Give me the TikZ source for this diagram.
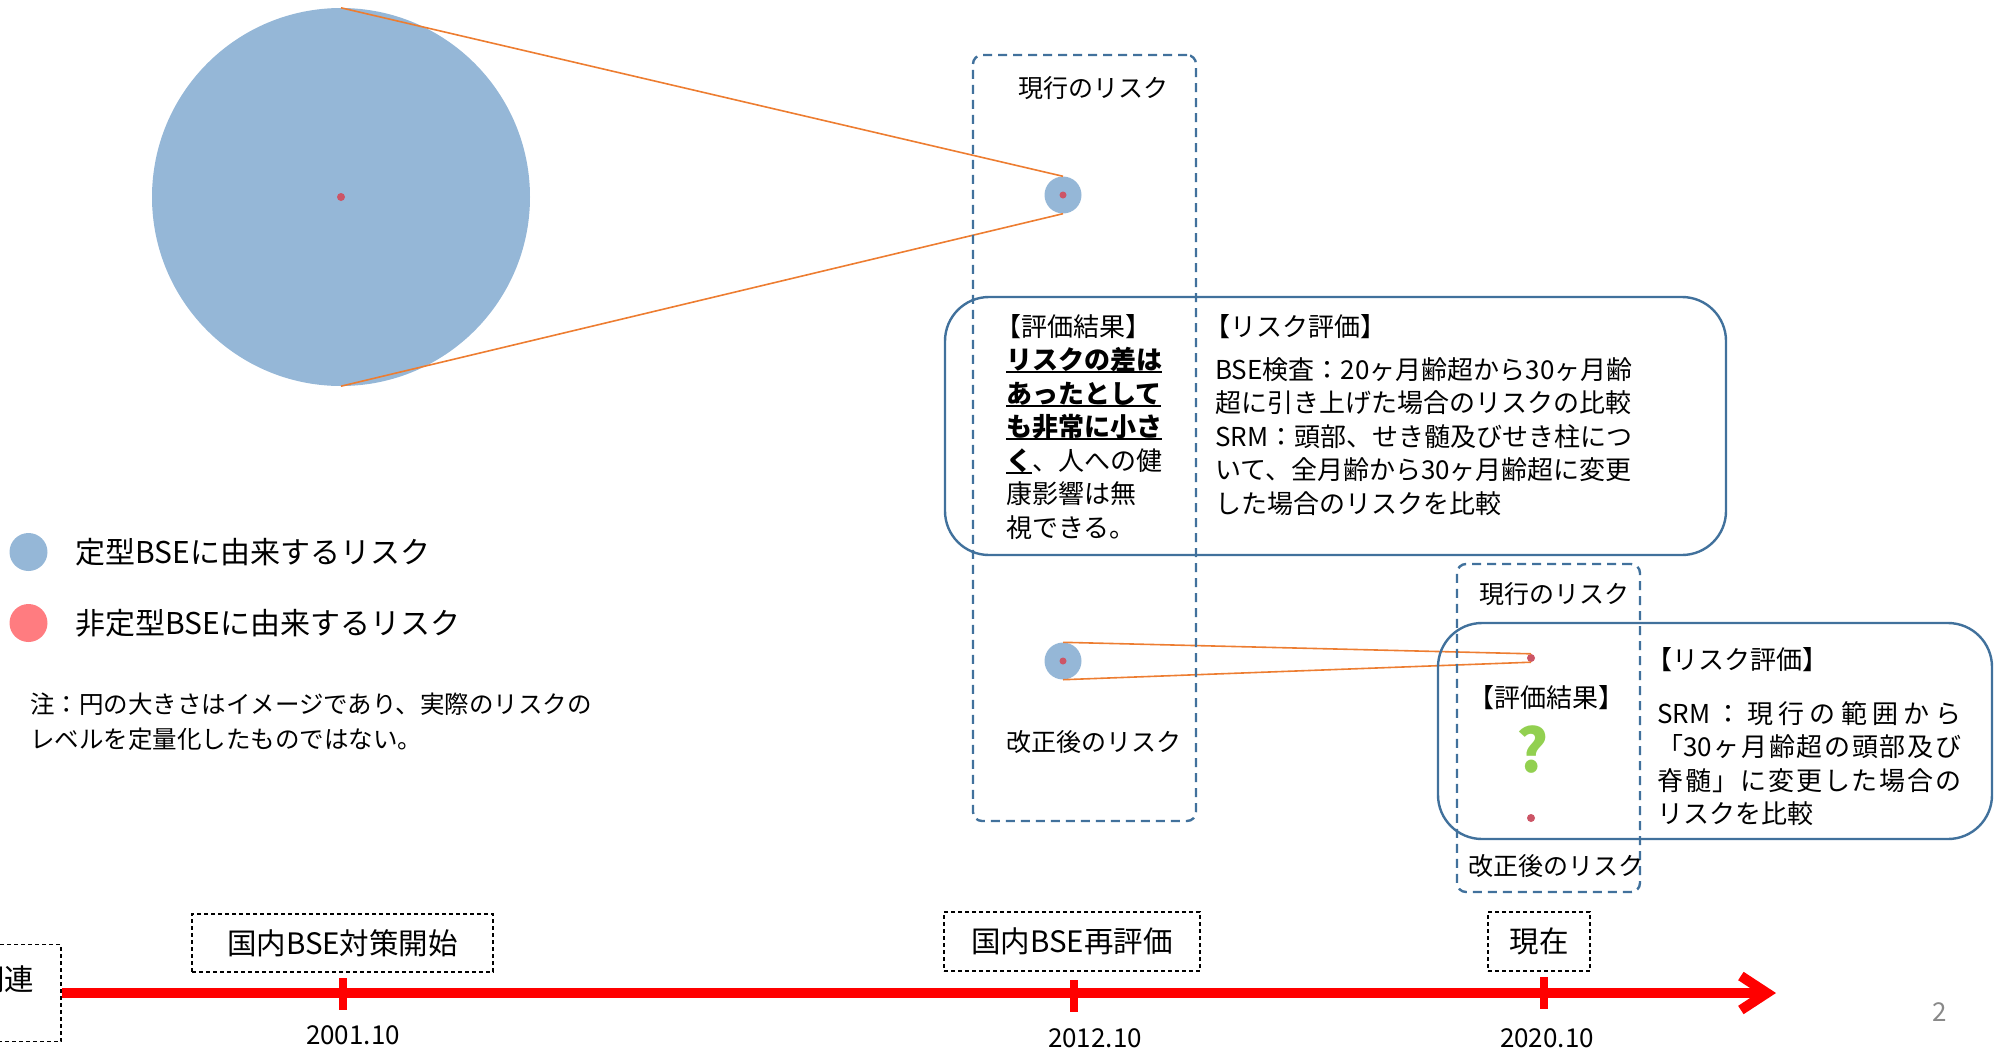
\documentclass[tikz,border=0pt]{standalone}
\usepackage{fontspec}
\setmainfont{Noto Sans CJK JP}
\usetikzlibrary{arrows.meta,positioning}
\definecolor{riskblue}{RGB}{149,183,215}
\definecolor{riskred}{RGB}{204,85,102}
\definecolor{legred}{RGB}{255,124,128}
\definecolor{lineorange}{RGB}{237,125,49}
\definecolor{frameblue}{RGB}{65,113,156}
\definecolor{qgreen}{RGB}{146,208,80}
\definecolor{pagegray}{RGB}{137,137,137}
\newcommand\jsize[2]{\fontsize{#1}{#2}\selectfont}
\newcommand\uln[1]{\setbox0\hbox{#1}\rlap{\rule[-3.5pt]{\wd0}{1.8pt}}\box0}
\makeatletter
\def\spr@ad#1{\ifx#1\@nil\else\hfil#1\expandafter\spr@ad\fi}
\def\spr@first#1{#1\spr@ad}
\newcommand\spreadline[2]{\makebox[#1][s]{\spr@first#2\@nil}}
\makeatother

\begin{document}
\begin{tikzpicture}[x=1pt,y=-1pt,
    rc/.style={circle,fill=riskblue,inner sep=0pt},
    rdot/.style={circle,fill=riskred,inner sep=0pt,minimum size=8pt},
    zl/.style={draw=lineorange,line width=1.6pt},
    stgbox/.style={draw=frameblue,line width=2.4pt,dash pattern=on 9pt off 6pt,
      rounded corners=9pt,inner sep=0pt},
    resbox/.style={draw=frameblue,line width=2.4pt,rounded corners=44pt,inner sep=0pt},
    evbox/.style={draw,line width=1.5pt,dash pattern=on 4pt off 3pt,inner sep=0pt,
      font=\jsize{29.5}{30}},
    txt/.style={inner sep=0pt,font=\jsize{26}{33.5}},
    lab/.style={inner sep=0pt,font=\jsize{25}{30}},
    legtxt/.style={inner sep=0pt,font=\jsize{30}{30}},
    datelab/.style={inner sep=0pt,font=\jsize{26}{30}},
    tl/.style={red,line width=10pt,-{Straight Barb[length=26pt,width=34pt]}},
    tickmark/.style={red,line width=8pt}]
  \useasboundingbox (0,0) rectangle (1995,1053);
  % risk circles
  \node[rc,minimum size=378pt] (big) at (341,197) {};
  \node[rdot] (bigdot) at (big) {};
  \node[rc,minimum size=37pt] (cur1) at (1063,195) {};
  \node[rdot,minimum size=7pt] (cur1dot) at (cur1) {};
  \node[rc,minimum size=37pt] (new1) at (1063,661) {};
  \node[rdot,minimum size=7pt] (new1dot) at (new1) {};
  \node[rdot] (cur2) at (1531,658) {};
  \node[rdot] (new2) at (1531,818) {};
  \draw[zl] (big.north) -- (cur1.north);
  \draw[zl] (big.south) -- (cur1.south);
  \draw[zl] (new1.north) -- (cur2.north);
  \draw[zl] (new1.south) -- (cur2.south);
  % stages
  \node[stgbox,minimum width=223pt,minimum height=766pt] (stg1) at (1084.5,438) {};
  \node[lab] (cur1lab) at (1093,88) {現行のリスク};
  \node[lab] (new1lab) at (1094,742) {改正後のリスク};
  \node[stgbox,minimum width=183pt,minimum height=328pt] (stg2) at (1548.5,728) {};
  \node[lab] (cur2lab) at (1554,594) {現行のリスク};
  \node[lab] (new2lab) at (1556,866) {改正後のリスク};
  % results
  \node[resbox,minimum width=781pt,minimum height=258pt] (resA) at (1335.5,426) {};
  \node[txt,anchor=north west,align=left] (verdA) at (1006,314)
    {\kern-.4em【評価結果】\\\uln{\textbf{リスクの差は}}\\\uln{\textbf{あったとして}}\\
     \uln{\textbf{も非常に小さ}}\\\uln{\textbf{く}}、人への健\\康影響は無\\視できる。};
  \node[txt,anchor=west] (evalA) at (1215,327) {\kern-.4em【リスク評価】};
  \node[txt,anchor=north west,align=left] (evalAtxt) at (1215,357)
    {BSE検査：20ヶ月齢超から30ヶ月齢\\超に引き上げた場合のリスクの比較\\
     SRM：頭部、せき髄及びせき柱につ\\いて、全月齢から30ヶ月齢超に変更\\
     した場合のリスクを比較};
  \node[resbox,minimum width=554pt,minimum height=216pt] (resB) at (1715,731) {};
  \node[txt] (verdB) at (1546,698) {【評価結果】};
  \node[inner sep=0pt,text=qgreen,font=\bfseries\jsize{60}{60}] (qmark) at (1533,750) {?};
  \node[txt,anchor=west] (evalB) at (1657,660) {\kern-.4em【リスク評価】};
  \node[txt,anchor=north west,align=left] (evalBtxt) at (1657,701)
    {\spreadline{304pt}{{SRM}：現行の範囲から}\\\spreadline{304pt}{{「30}ヶ月齢超の頭部及び}\\
     \spreadline{304pt}{脊髄」に変更した場合の}\\リスクを比較};
  % legend
  \node[rc,minimum size=38pt] (legstd) at (28.5,552) {};
  \node[rc,fill=legred,minimum size=38pt] (legatyp) at (28.5,623) {};
  \node[legtxt,right=27.5pt of legstd] (legstdtxt) {定型BSEに由来するリスク};
  \node[legtxt,right=27.5pt of legatyp] (legatyptxt) {非定型BSEに由来するリスク};
  \node[inner sep=0pt,font=\jsize{24.5}{35},anchor=north west,align=left] (note) at (30,693)
    {注：円の大きさはイメージであり、実際のリスクの\\レベルを定量化したものではない。};
  % timeline
  \node[evbox,minimum width=112pt,minimum height=97pt] (kanren) at (5,993) {\raisebox{30pt}{関連}};
  \coordinate (tlend) at (1776,993);
  \draw[tl] (kanren.east) -- (tlend);
  \coordinate (t2001) at (343,994);
  \coordinate (t2012) at (1074,996);
  \coordinate (t2020) at (1544,993);
  \foreach \t in {t2001,t2012,t2020}
    \draw[tickmark] (\t) ++(0,-16) -- ++(0,32);
  \node[datelab] (d2001) at (353,1035) {2001.10};
  \node[datelab] (d2012) at (1095,1038) {2012.10};
  \node[datelab] (d2020) at (1547,1038) {2020.10};
  \node[evbox,minimum width=301pt,minimum height=58pt] (ev2001) at (342.5,943) {国内BSE対策開始};
  \node[evbox,minimum width=256pt,minimum height=59pt] (ev2012) at (1072,941.5) {国内BSE再評価};
  \node[evbox,minimum width=102pt,minimum height=59pt] (ev2020) at (1539,941.5) {現在};
  \node[inner sep=0pt,text=pagegray,font=\jsize{26}{26}] (pageno) at (1940,1012) {2};
\end{tikzpicture}
\end{document}
